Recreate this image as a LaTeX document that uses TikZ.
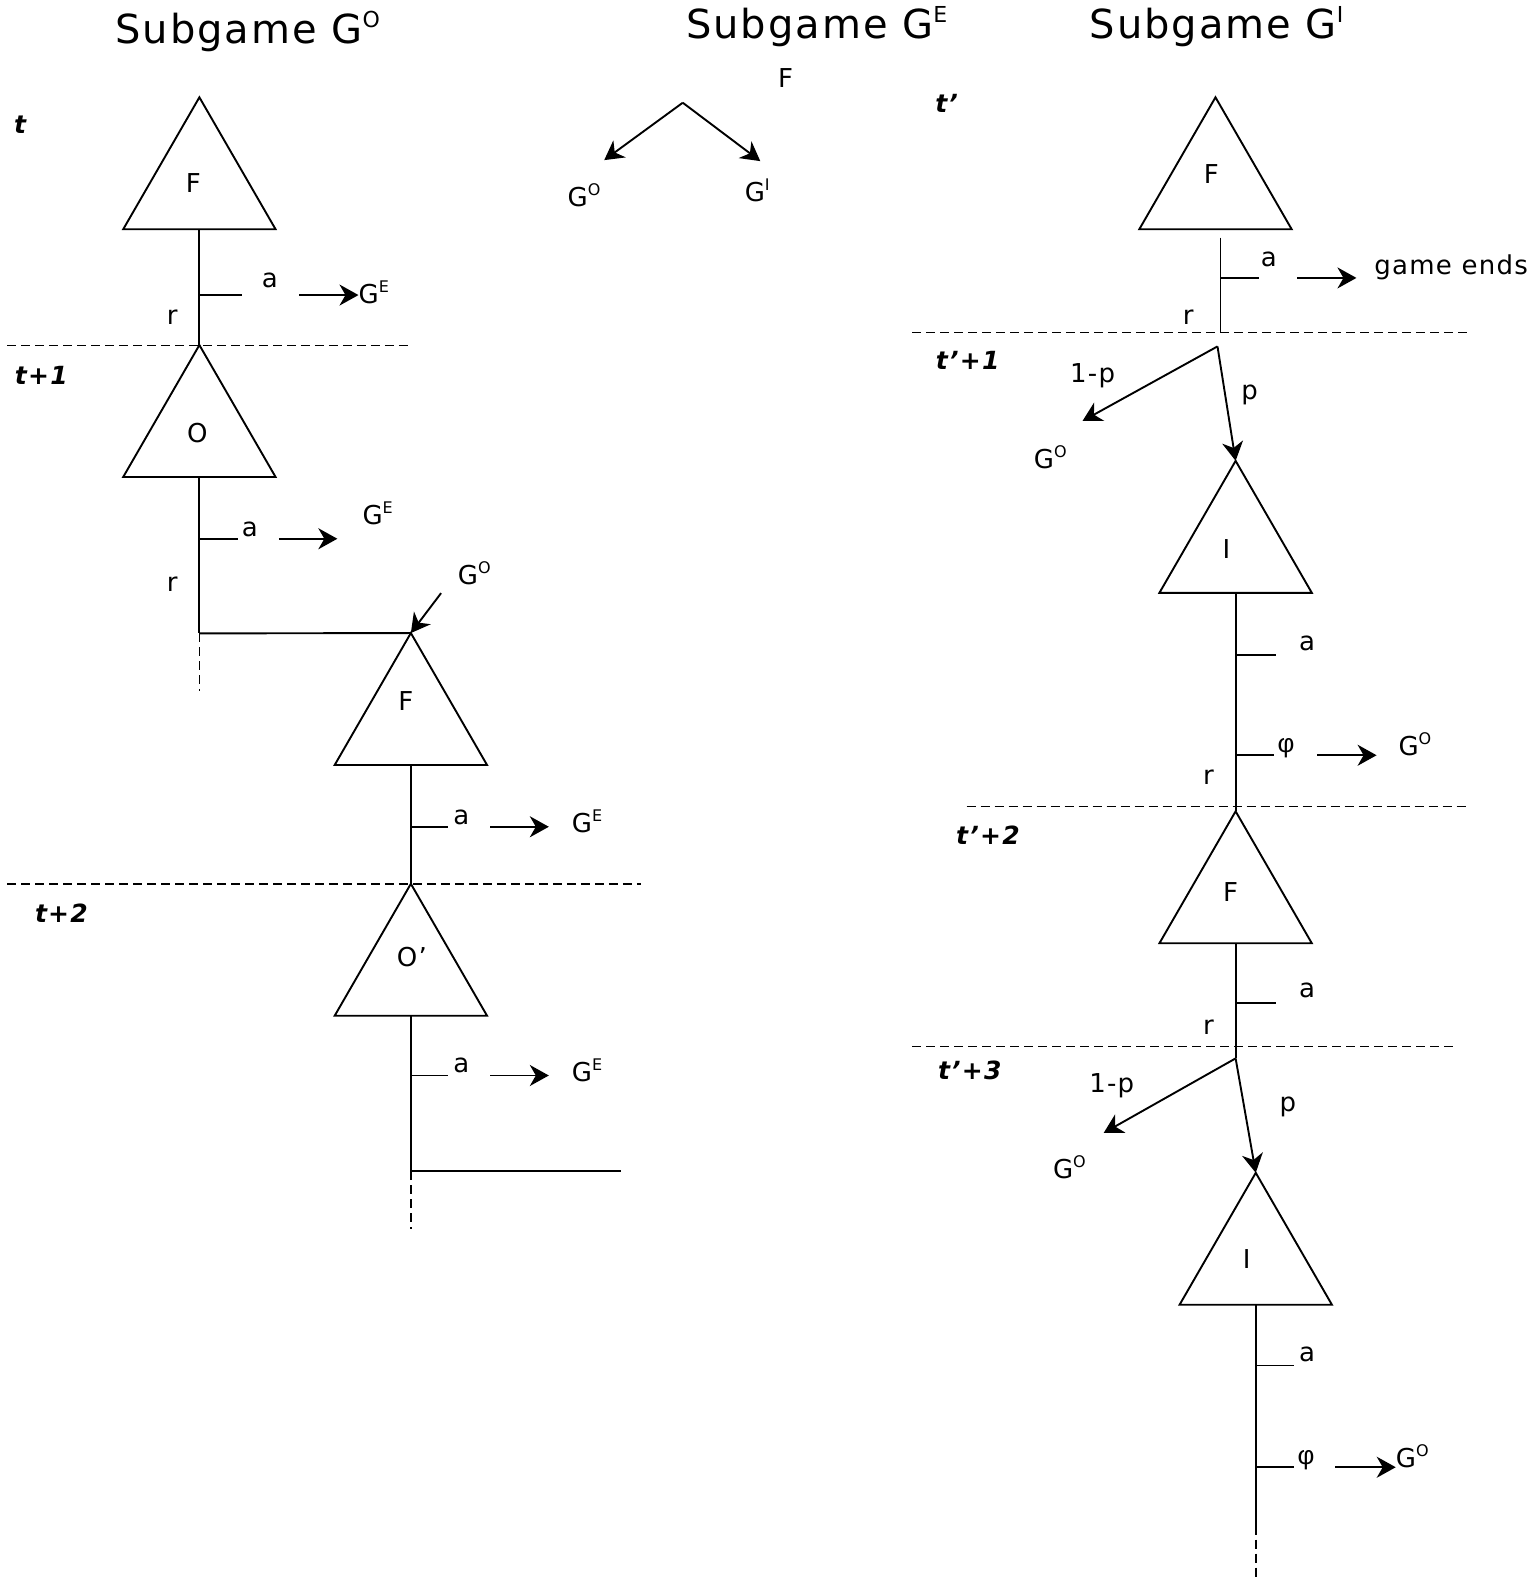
\documentclass[tikz,border=0pt]{standalone}
\usepackage{fontspec}
\setmainfont{DejaVu Sans}[LetterSpace=5]
\newfontfamily\phifont{Liberation Sans}
\usetikzlibrary{arrows.meta,shapes.geometric}
\newcommand\GL[1]{G\raisebox{11pt}{\fontsize{16}{16}\selectfont #1}}
\newcommand\GT[1]{G\raisebox{16pt}{\fontsize{22}{22}\selectfont #1}}
\tikzset{
  tri/.style={draw, regular polygon, regular polygon sides=3, minimum size=176pt,
    inner sep=0pt, outer sep=0pt, line width=1.9pt},
  lbl/.style={font=\fontsize{26}{26}\selectfont, inner sep=0pt},
  tlbl/.style={font=\fontsize{25}{25}\selectfont\bfseries\itshape, inner sep=0pt},
  ttl/.style={font=\fontsize{40}{40}\selectfont, inner sep=0pt},
  edge/.style={line width=1.9pt},
  arr/.style={line width=1.9pt, -{Stealth[length=19pt,width=21pt,inset=6pt]}},
  per/.style={dash pattern=on 9pt off 5pt, line width=1.5pt},
}
\begin{document}
\begin{tikzpicture}[x=1.0072pt,y=-1.0072pt]
\useasboundingbox (0,0) rectangle (1524,1568);

% ---------- titles
\node[ttl] (title1) at (246,31) {Subgame \GT{O}};
\node[ttl] (title2) at (811,26) {Subgame \GT{E}};
\node[ttl] (title3) at (1208,26) {Subgame \GT{I}};

% ---------- Subgame G^O
\node[tlbl] (tA) at (20,124) {t};
\node[tri] (F1) at (198,184) {};
\node[lbl] (F1l) at (192,182) {F};
\node[tri] (O1) at (198,430) {};
\node[lbl] (O1l) at (196,430) {O};
\draw[edge] (F1.side 2) -- (O1.corner 1);
\coordinate (k1) at (198,293);
\coordinate (k1e) at (240,293);
\draw[edge] (k1) -- (k1e);
\node[lbl] (a1) at (268,278) {a};
\node[lbl] (r1) at (171,315) {r};
\node[lbl, anchor=west] (ge1) at (356,290) {\GL{E}};
\coordinate (s1) at (297,293);
\draw[arr] (s1) -- (s1 -| ge1.west);
\coordinate (dA1) at (7,343);
\coordinate (dA2) at (405,343);
\draw[per] (dA1) -- (dA2);
\node[tlbl] (tB) at (41,373) {t+1};

\coordinate (j1) at (198,629);
\coordinate (j1d) at (198,686);
\draw[edge] (O1.side 2) -- (j1);
\coordinate (k2) at (198,535);
\coordinate (k2e) at (236,535);
\draw[edge] (k2) -- (k2e);
\node[lbl] (a2) at (248,526) {a};
\node[lbl] (r2) at (171,580) {r};
\coordinate (s2) at (277,535);
\coordinate (e2) at (335,535);
\draw[arr] (s2) -- (e2);
\node[lbl] (ge2) at (375,510) {\GL{E}};
\node[tri] (F2) at (408,716) {};
\node[lbl] (F2l) at (403,696) {F};
\draw[edge] (j1) -- (F2.corner 1);
\draw[per] (j1) -- (j1d);
\node[lbl] (go1) at (471,569) {\GL{O}};
\coordinate (s3) at (438,589);
\draw[arr] (s3) -- (F2.corner 1);

\node[tri] (O2) at (408,965) {};
\node[lbl] (O2l) at (409,950) {O’};
\draw[edge] (F2.side 2) -- (O2.corner 1);
\coordinate (k3) at (408,821);
\coordinate (k3e) at (445,821);
\draw[edge] (k3) -- (k3e);
\node[lbl] (a3) at (458,812) {a};
\coordinate (s4) at (487,821);
\coordinate (e4) at (545,821);
\draw[arr] (s4) -- (e4);
\node[lbl] (ge3) at (583,816) {\GL{E}};
\coordinate (dB1) at (7,878);
\coordinate (dB2) at (637,878);
\draw[per] (dB1) -- (dB2);
\node[tlbl] (tC) at (61,907) {t+2};

\coordinate (j2) at (408,1163);
\coordinate (j2e) at (617,1163);
\coordinate (j2d) at (408,1220);
\draw[edge] (O2.side 2) -- (j2);
\draw[edge] (j2) -- (j2e);
\draw[per] (j2) -- (j2d);
\coordinate (k4) at (408,1068);
\coordinate (k4e) at (445,1068);
\draw[edge] (k4) -- (k4e);
\node[lbl] (a4) at (458,1058) {a};
\coordinate (s5) at (487,1068);
\coordinate (e5) at (545,1068);
\draw[arr] (s5) -- (e5);
\node[lbl] (ge4) at (583,1063) {\GL{E}};

% ---------- Subgame G^E
\node[lbl] (Fm) at (780,77) {F};
\coordinate (gm) at (678,102);
\coordinate (gmL) at (600,159);
\coordinate (gmR) at (755,160);
\draw[arr] (gm) -- (gmL);
\draw[arr] (gm) -- (gmR);
\node[lbl] (goM) at (580,194) {\GL{O}};
\node[lbl] (giM) at (752,189) {\GL{I}};

% ---------- Subgame G^I
\node[tlbl] (tD) at (940,103) {t’};
\node[tri] (F3) at (1207,184) {};
\node[lbl] (F3l) at (1203,173) {F};
\coordinate (st3) at (1212,236);
\coordinate (st3e) at (1212,330);
\draw[edge] (st3) -- (st3e);
\coordinate (k5) at (1212,276);
\coordinate (k5e) at (1250,276);
\draw[edge] (k5) -- (k5e);
\node[lbl] (a5) at (1260,258) {a};
\coordinate (s6) at (1288,276);
\coordinate (e6) at (1347,276);
\draw[arr] (s6) -- (e6);
\node[lbl] (ends) at (1441,265) {game ends};
\node[lbl] (r5) at (1180,315) {r};
\coordinate (dC1) at (906,330);
\coordinate (dC2) at (1458,330);
\draw[per] (dC1) -- (dC2);
\node[tlbl] (tE) at (961,358) {t’+1};

\node[tri] (I1) at (1227,545) {};
\node[lbl] (I1l) at (1218,545) {I};
\coordinate (n1) at (1209,344);
\coordinate (n1L) at (1075,418);
\draw[arr] (n1) -- (n1L);
\draw[arr] (n1) -- (I1.corner 1);
\node[lbl] (p1a) at (1085,373) {1-p};
\node[lbl] (p1b) at (1241,392) {p};
\node[lbl] (go2) at (1043,454) {\GL{O}};

\node[tri] (F4) at (1227,893) {};
\node[lbl] (F4l) at (1222,886) {F};
\draw[edge] (I1.side 2) -- (F4.corner 1);
\coordinate (k6) at (1227,650);
\coordinate (k6e) at (1267,650);
\draw[edge] (k6) -- (k6e);
\node[lbl] (a6) at (1298,639) {a};
\coordinate (k7) at (1227,750);
\coordinate (k7e) at (1265,750);
\draw[edge] (k7) -- (k7e);
\node[lbl, font=\fontsize{26}{26}\phifont] (phi1) at (1277,743) {φ};
\coordinate (s7) at (1308,750);
\coordinate (e7) at (1367,750);
\draw[arr] (s7) -- (e7);
\node[lbl] (go3) at (1405,739) {\GL{O}};
\node[lbl] (r6) at (1200,772) {r};
\coordinate (dD1) at (960,801);
\coordinate (dD2) at (1456,801);
\draw[per] (dD1) -- (dD2);
\node[tlbl] (tF) at (981,829) {t’+2};

\coordinate (n2) at (1227,1051);
\draw[edge] (F4.side 2) -- (n2);
\coordinate (k8) at (1227,996);
\coordinate (k8e) at (1267,996);
\draw[edge] (k8) -- (k8e);
\node[lbl] (a8) at (1298,983) {a};
\node[lbl] (r8) at (1200,1020) {r};
\coordinate (dE1) at (906,1039);
\coordinate (dE2) at (1443,1039);
\draw[per] (dE1) -- (dE2);
\node[tlbl] (tG) at (963,1063) {t’+3};

\node[tri] (I2) at (1247,1252) {};
\node[lbl] (I2l) at (1238,1250) {I};
\coordinate (n2L) at (1096,1125);
\draw[arr] (n2) -- (n2L);
\draw[arr] (n2) -- (I2.corner 1);
\node[lbl] (p2a) at (1104,1078) {1-p};
\node[lbl] (p2b) at (1279,1099) {p};
\node[lbl] (go4) at (1062,1159) {\GL{O}};

\coordinate (n3) at (1247,1515);
\coordinate (n3d) at (1247,1568);
\draw[edge] (I2.side 2) -- (n3);
\draw[per] (n3) -- (n3d);
\coordinate (k9) at (1247,1356);
\coordinate (k9e) at (1285,1356);
\draw[edge] (k9) -- (k9e);
\node[lbl] (a9) at (1298,1345) {a};
\coordinate (k10) at (1247,1457);
\coordinate (k10e) at (1285,1457);
\draw[edge] (k10) -- (k10e);
\node[lbl, font=\fontsize{26}{26}\phifont] (phi2) at (1297,1450) {φ};
\node[lbl, anchor=west] (go5) at (1386,1446) {\GL{O}};
\coordinate (s8) at (1326,1457);
\draw[arr] (s8) -- (s8 -| go5.west);
\end{tikzpicture}
\end{document}
